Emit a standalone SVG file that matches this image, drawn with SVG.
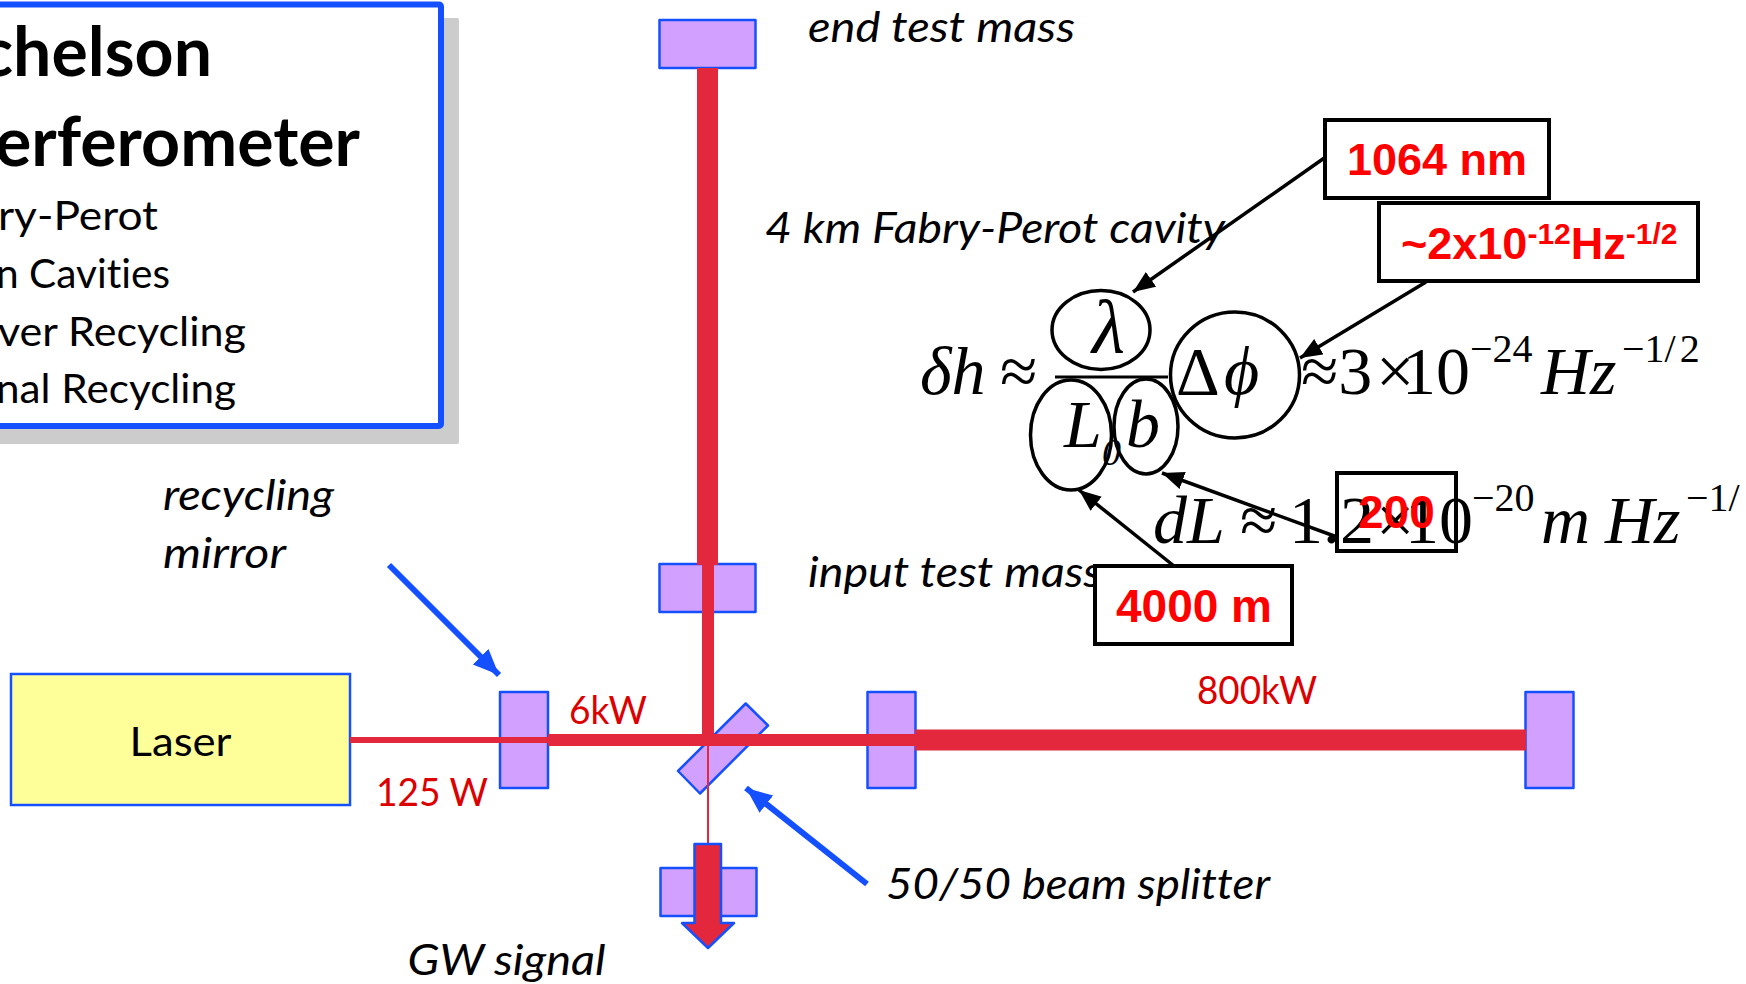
<svg xmlns="http://www.w3.org/2000/svg" width="1746" height="984" viewBox="0 0 1746 984">
<style>
text{white-space:pre;font-variant-ligatures:none}
.c{font-family:"Lato","Open Sans",sans-serif}
.i{font-style:italic;fill:#000;font-size:43px}
.r{fill:#dd0000;font-size:38px}
.mir{fill:#d2a0ff;stroke:#1450ff;stroke-width:2.5;stroke-linejoin:round}
.beam{fill:#e3283e}
.box{fill:#fff;stroke:#000;stroke-width:4}
.rb{font-family:"Liberation Sans",Arial,sans-serif;font-weight:bold;fill:#ff0000;font-size:45px}
.m{font-family:"Liberation Serif","Times New Roman",serif;fill:#000;font-size:68px}
.mi{font-style:italic}
.sup{font-size:40px}
.ring{fill:none;stroke:#000;stroke-width:3.5}
.ba{stroke:#000;stroke-width:3.5;fill:none;marker-end:url(#ah)}
.bl{stroke:#1450ff;stroke-width:6;fill:none;marker-end:url(#bh)}
</style>
<defs>
<marker id="ah" markerUnits="userSpaceOnUse" markerWidth="24" markerHeight="20" refX="22" refY="9" orient="auto"><path d="M0 0L22 9L0 18z" fill="#000"/></marker>
<marker id="bh" markerUnits="userSpaceOnUse" markerWidth="28" markerHeight="24" refX="26" refY="11" orient="auto"><path d="M0 0L26 11L0 22z" fill="#1450ff"/></marker>
</defs>
<rect width="1746" height="984" fill="#fff"/>

<g id="legend">
<rect x="-10" y="18" width="469" height="426" rx="2" fill="#cccccc"/>
<rect x="-10" y="4.500" width="451" height="421.500" rx="2" fill="#fff" stroke="#1450ff" stroke-width="6"/>
<g class="c" text-anchor="end" fill="#000">
<text x="212" y="76" font-size="68" font-weight="bold">chelson</text>
<text x="360" y="166" font-size="68" font-weight="bold" textLength="365" lengthAdjust="spacingAndGlyphs">erferometer</text>
<text x="158" y="230" font-size="41" textLength="160" lengthAdjust="spacingAndGlyphs">ry-Perot</text>
<text x="170" y="288" font-size="41" textLength="174" lengthAdjust="spacingAndGlyphs">n Cavities</text>
<text x="246" y="346" font-size="41" textLength="248" lengthAdjust="spacingAndGlyphs">ver Recycling</text>
<text x="236" y="403" font-size="41" textLength="240" lengthAdjust="spacingAndGlyphs">nal Recycling</text>
</g>
</g>

<g id="laser"><rect x="11" y="674" width="339" height="131" fill="#ffff99" stroke="#1450ff" stroke-width="2.5"/>
<text class="c" x="129.500" y="756" font-size="41" fill="#000" textLength="102" lengthAdjust="spacingAndGlyphs">Laser</text></g>
<g id="end-test-mass-y"><rect class="mir" x="659.500" y="20" width="96" height="48"/></g>
<g id="input-test-mass-y"><rect class="mir" x="659.500" y="564" width="96" height="48"/></g>
<g id="recycling-mirror"><rect class="mir" x="500" y="692" width="48" height="96"/></g>
<g id="input-test-mass-x"><rect class="mir" x="867.500" y="692" width="48" height="96"/></g>
<g id="end-test-mass-x"><rect class="mir" x="1525.500" y="692" width="48" height="96"/></g>
<g id="beam-splitter"><polygon class="mir" points="745.700,703.500 768,725.500 700,793.500 678,771"/></g>
<g id="photodiode"><rect class="mir" x="660.500" y="868" width="96" height="48"/></g>

<g id="connectors">
<rect class="beam" x="350" y="737" width="150" height="6"/>
<rect class="beam" x="500" y="737" width="48" height="6"/>
<rect class="beam" x="548" y="734" width="320" height="12"/>
<rect class="beam" x="915" y="729.500" width="611" height="21"/>
<rect class="beam" x="868" y="734" width="48" height="12"/>
<rect class="beam" x="697" y="68" width="21" height="497"/>
<rect class="beam" x="702" y="565" width="12" height="170"/>
<rect class="beam" x="707" y="746" width="2" height="98"/>
<path class="beam" d="M694.500 844H721V923H734L708 948L682 923H694.500Z" stroke="#1450ff" stroke-width="2.500" stroke-linejoin="round"/>
<path class="bl" d="M389 565L499 675"/>
<path class="bl" d="M867 884L746 788"/>
<path class="ba" d="M1325 157.500L1133 292"/>
<path class="ba" d="M1426 282L1300 358"/>
<path class="ba" d="M1337 537L1162 473"/>
<path class="ba" d="M1174 566L1079 490"/>
</g>

<g id="labels" class="c">
<text class="i" x="808" y="42" textLength="267" lengthAdjust="spacingAndGlyphs">end test mass</text>
<text class="i" x="765" y="243" textLength="460" lengthAdjust="spacingAndGlyphs">4 km Fabry-Perot cavity</text>
<text class="i" x="163" y="510" textLength="171" lengthAdjust="spacingAndGlyphs">recycling</text>
<text class="i" x="163" y="568" textLength="123" lengthAdjust="spacingAndGlyphs">mirror</text>
<text class="i" x="808" y="587" textLength="294" lengthAdjust="spacingAndGlyphs">input test mass</text>
<text class="i" x="886" y="899" textLength="384" lengthAdjust="spacingAndGlyphs">50/50 beam splitter</text>
<text class="i" x="407.500" y="975" textLength="198" lengthAdjust="spacingAndGlyphs">GW signal</text>
<text class="r" x="569" y="724" textLength="78" lengthAdjust="spacingAndGlyphs">6kW</text>
<text class="r" x="376" y="806" textLength="112" lengthAdjust="spacingAndGlyphs">125 W</text>
<text class="r" x="1197" y="704" textLength="120" lengthAdjust="spacingAndGlyphs">800kW</text>
</g>

<g id="equation">
<text class="m mi" x="920" y="394">δh</text>
<text class="m" x="1000" y="394">≈</text>
<text class="m mi" x="1092" y="353" style="font-size:76px">λ</text>
<text class="m mi" x="1064" y="447">L</text>
<text class="m mi" x="1102" y="465" style="font-size:38px">0</text>
<text class="m mi" x="1126" y="447">b</text>
<text class="m" x="1176" y="394">Δ</text>
<text class="m mi" x="1224" y="394">ϕ</text>
<text class="m" x="1301" y="394">≈3</text>
<text class="m" x="1376" y="394">×</text>
<text class="m" x="1402" y="394">10</text>
<text class="m sup" x="1470" y="362" style="font-size:40px">−24</text>
<text class="m mi" x="1541" y="394">Hz</text>
<text class="m sup" x="1622" y="362" style="font-size:40px">−1/<tspan dx="4">2</tspan></text>
<path d="M1055 377H1168" stroke="#000" stroke-width="3"/>
<ellipse class="ring" cx="1101" cy="330" rx="49" ry="39.500"/>
<ellipse class="ring" cx="1071" cy="435" rx="40.500" ry="55"/>
<ellipse class="ring" cx="1146" cy="426.500" rx="32" ry="47.500"/>
<ellipse class="ring" cx="1235" cy="375" rx="64.500" ry="63"/>
<text class="m mi" x="1153" y="543">dL</text>
<text class="m" x="1240" y="543">≈</text>
<text class="m" x="1289" y="543">1.2</text>
<text class="m" x="1376" y="543">×</text>
<text class="m" x="1405" y="543">10</text>
<text class="m sup" x="1472" y="511" style="font-size:40px">−20</text>
<text class="m mi" x="1541" y="543">m</text>
<text class="m mi" x="1605" y="543">Hz</text>
<text class="m sup" x="1686" y="511" style="font-size:40px">−1/</text>
</g>

<g id="box-1064"><rect class="box" x="1325" y="120" width="224" height="78"/><text class="rb" x="1347" y="175">1064 nm</text></g>
<g id="box-strain"><rect class="box" x="1379" y="203" width="319" height="78"/><text class="rb" x="1401" y="259">~2x10<tspan font-size="30" dy="-15">-12</tspan><tspan dy="15">Hz</tspan><tspan font-size="30" dy="-15">-1/2</tspan></text></g>
<g id="box-200"><rect x="1337" y="473" width="119" height="78" fill="none" stroke="#000" stroke-width="4"/><text class="rb" x="1358" y="528" style="font-size:46px">200</text></g>
<g id="box-4000"><rect class="box" x="1095" y="566" width="197" height="78"/><text class="rb" x="1116" y="622" style="font-size:46px">4000 m</text></g>
</svg>
